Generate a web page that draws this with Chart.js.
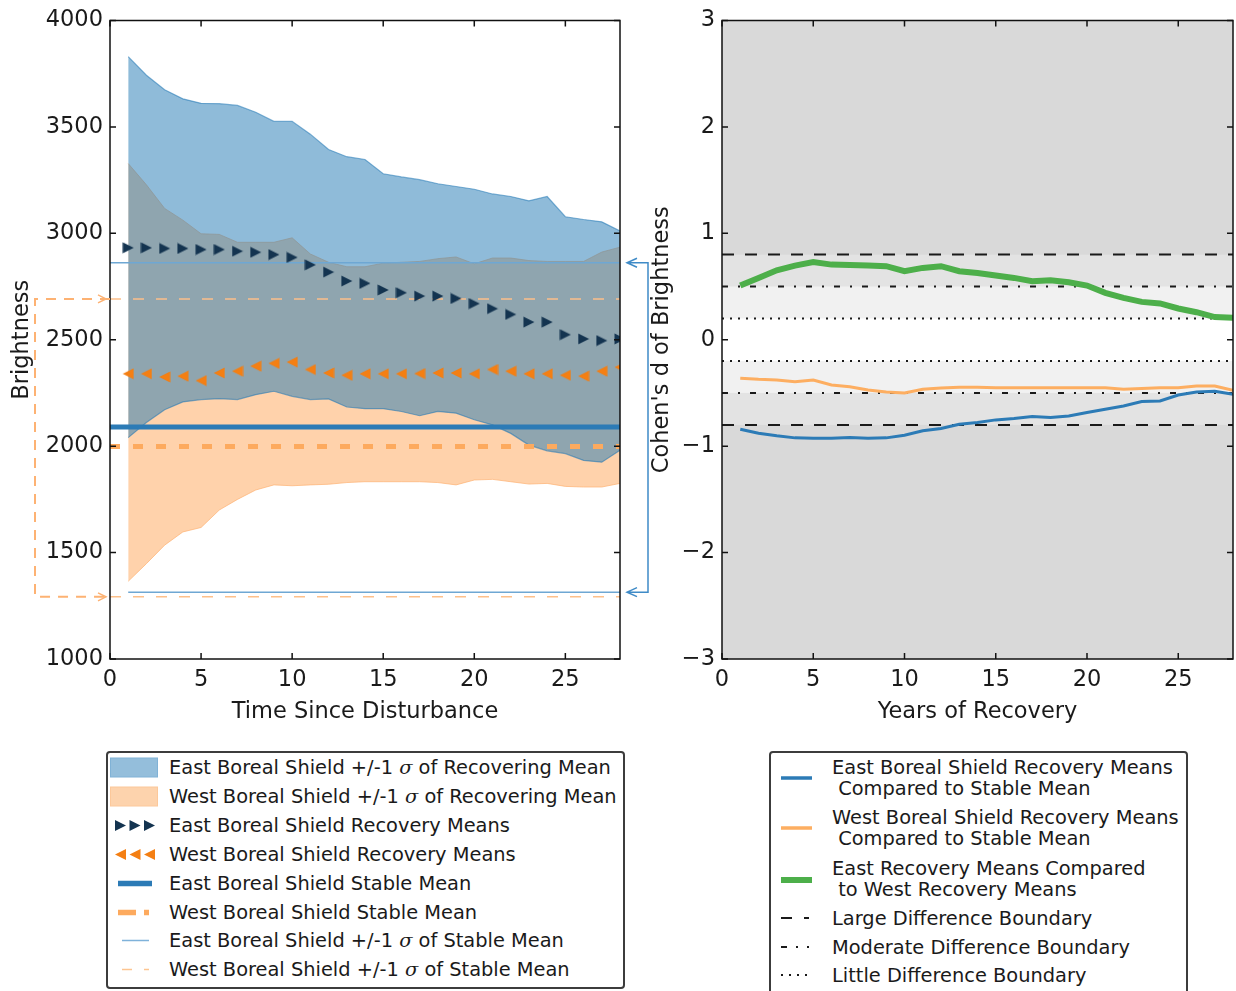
<!DOCTYPE html>
<html lang="en">
<head>
<meta charset="UTF-8">
<title>Boreal Shield Recovery Brightness</title>
<style>
  html, body { margin: 0; padding: 0; background: #fff; overflow: hidden; }
  body { width: 1236px; height: 991px; position: relative; font-family: 'DejaVu Sans', sans-serif; color: #1a1a1a; }
  canvas { position: absolute; top: 0; }
  #leftChart { left: 0; }
  #rightChart { left: 620px; }
  .legend { position: absolute; border: 2px solid #3c3c3c; border-radius: 4px; background: #fff; box-sizing: border-box; font-size: 19.4px; }
  .row { position: absolute; white-space: pre; }
  .legend svg { position: absolute; }
  .sig { font-family: 'DejaVu Serif', serif; font-style: italic; }
  #leftLegend { left: 106px; top: 751px; width: 519px; height: 238px; }
  #leftLegend .row { left: 61px; height: 29px; line-height: 29px; }
  #rightLegend { left: 769px; top: 751px; width: 419px; height: 260px; }
  #rightLegend .row { left: 61px; line-height: 21px; }
</style>
</head>
<body>
<canvas id="leftChart" width="680" height="745"></canvas>
<canvas id="rightChart" width="616" height="745"></canvas>

<div class="legend" id="leftLegend">
  <svg style="left:2px;top:0" width="50" height="29"><rect x="0.5" y="5" width="47" height="19" fill="#94bedb" stroke="#80b2d6"/></svg>
  <div class="row" style="top:0">East Boreal Shield +/-1 <span class="sig">σ</span> of Recovering Mean</div>
  <svg style="left:2px;top:28.9px" width="50" height="29"><rect x="0.5" y="5" width="47" height="19" fill="#fdd3ad" stroke="#fcc89a"/></svg>
  <div class="row" style="top:28.9px">West Boreal Shield +/-1 <span class="sig">σ</span> of Recovering Mean</div>
  <svg style="left:2px;top:57.8px" width="50" height="29"><g fill="#143450"><polygon points="5,9 16,14.5 5,20"/><polygon points="19.5,9 30.5,14.5 19.5,20"/><polygon points="34,9 45,14.5 34,20"/></g></svg>
  <div class="row" style="top:57.8px">East Boreal Shield Recovery Means</div>
  <svg style="left:2px;top:86.7px" width="50" height="29"><g fill="#f47f13"><polygon points="16,9 5,14.5 16,20"/><polygon points="30.5,9 19.5,14.5 30.5,20"/><polygon points="45,9 34,14.5 45,20"/></g></svg>
  <div class="row" style="top:86.7px">West Boreal Shield Recovery Means</div>
  <svg style="left:2px;top:115.6px" width="50" height="29"><line x1="8" y1="14.5" x2="42" y2="14.5" stroke="#2c7bb6" stroke-width="5.5"/></svg>
  <div class="row" style="top:115.6px">East Boreal Shield Stable Mean</div>
  <svg style="left:2px;top:144.5px" width="50" height="29"><line x1="8" y1="14.5" x2="39" y2="14.5" stroke="#fdaa5e" stroke-width="5.5" stroke-dasharray="18,8"/></svg>
  <div class="row" style="top:144.5px">West Boreal Shield Stable Mean</div>
  <svg style="left:2px;top:173.4px" width="50" height="29"><line x1="12" y1="14.5" x2="39" y2="14.5" stroke="#7fb2da" stroke-width="1.5"/></svg>
  <div class="row" style="top:173.4px">East Boreal Shield +/-1 <span class="sig">σ</span> of Stable Mean</div>
  <svg style="left:2px;top:202.3px" width="50" height="29"><line x1="12" y1="14.5" x2="39" y2="14.5" stroke="#fdc591" stroke-width="1.5" stroke-dasharray="10,12"/></svg>
  <div class="row" style="top:202.3px">West Boreal Shield +/-1 <span class="sig">σ</span> of Stable Mean</div>
</div>

<div class="legend" id="rightLegend">
  <svg style="left:8px;top:10px" width="40" height="30"><line x1="2" y1="15" x2="33" y2="15" stroke="#2c7bb6" stroke-width="3.5"/></svg>
  <div class="row" style="top:3.5px">East Boreal Shield Recovery Means
 Compared to Stable Mean</div>
  <svg style="left:8px;top:60px" width="40" height="30"><line x1="2" y1="15" x2="33" y2="15" stroke="#fdae61" stroke-width="3.5"/></svg>
  <div class="row" style="top:53.5px">West Boreal Shield Recovery Means
 Compared to Stable Mean</div>
  <svg style="left:8px;top:112px" width="40" height="30"><line x1="2" y1="15" x2="33" y2="15" stroke="#4daf4a" stroke-width="6"/></svg>
  <div class="row" style="top:104.5px">East Recovery Means Compared
 to West Recovery Means</div>
  <svg style="left:8px;top:150px" width="40" height="30"><line x1="2" y1="15" x2="30" y2="15" stroke="#1a1a1a" stroke-width="2" stroke-dasharray="11,12"/></svg>
  <div class="row" style="top:154.5px">Large Difference Boundary</div>
  <svg style="left:8px;top:179px" width="40" height="30"><line x1="2" y1="15" x2="30" y2="15" stroke="#1a1a1a" stroke-width="2" stroke-dasharray="6,9,2,9"/></svg>
  <div class="row" style="top:183.5px">Moderate Difference Boundary</div>
  <svg style="left:8px;top:207px" width="40" height="30"><line x1="2" y1="15" x2="30" y2="15" stroke="#1a1a1a" stroke-width="2" stroke-dasharray="2,6"/></svg>
  <div class="row" style="top:211.5px">Little Difference Boundary</div>
</div>

<script src="https://cdn.jsdelivr.net/npm/chart.js"></script>
<script>
  // years since disturbance
  const years = [1, 2, 3, 4, 5, 6, 7, 8, 9, 10, 11, 12, 13, 14, 15, 16, 17, 18, 19, 20, 21, 22, 23, 24, 25, 26, 27, 28];

  // recovering brightness, +/-1 sigma band and means
  const eastUpper = [3830, 3743, 3675, 3632, 3611, 3609, 3601, 3569, 3526, 3526, 3466, 3394, 3360, 3347, 3280, 3265, 3252, 3233, 3220, 3207, 3185, 3173, 3153, 3173, 3078, 3065, 3054, 3011];
  const eastLower = [2040, 2111, 2171, 2208, 2219, 2223, 2219, 2242, 2258, 2234, 2219, 2222, 2184, 2176, 2176, 2163, 2143, 2163, 2155, 2124, 2100, 2060, 2005, 1978, 1965, 1933, 1925, 1981];
  const westUpper = [3328, 3228, 3117, 3062, 2998, 2995, 2958, 2958, 2958, 2979, 2903, 2864, 2843, 2843, 2860, 2864, 2868, 2881, 2889, 2857, 2884, 2884, 2872, 2868, 2868, 2868, 2912, 2935];
  const westLower = [1365, 1448, 1535, 1597, 1618, 1700, 1750, 1794, 1818, 1814, 1818, 1821, 1829, 1833, 1833, 1833, 1833, 1829, 1818, 1841, 1844, 1833, 1822, 1825, 1811, 1808, 1808, 1825];
  const eastMeans = [2932, 2932, 2929, 2929, 2924, 2924, 2916, 2911, 2900, 2887, 2852, 2818, 2776, 2765, 2734, 2721, 2705, 2705, 2694, 2670, 2646, 2619, 2583, 2583, 2524, 2504, 2496, 2504];
  const westMeans = [2340, 2340, 2325, 2329, 2308, 2344, 2352, 2376, 2389, 2395, 2360, 2344, 2333, 2340, 2340, 2340, 2341, 2344, 2344, 2340, 2360, 2352, 2340, 2340, 2333, 2329, 2352, 2371];

  // stable brightness: [-1 sigma, mean, +1 sigma]
  const eastStable = [1314, 2090, 2862];
  const westStable = [1292, 1998, 2692];
  const stableSpan = [0, 28];
  const eastLowSpan = [1, 28];

  // Cohen's d against the stable means and east vs west
  const dEast = [-0.841, -0.878, -0.903, -0.922, -0.925, -0.925, -0.919, -0.925, -0.922, -0.897, -0.856, -0.834, -0.794, -0.778, -0.753, -0.741, -0.722, -0.731, -0.716, -0.684, -0.653, -0.622, -0.581, -0.575, -0.519, -0.491, -0.484, -0.512];
  const dWest = [-0.362, -0.372, -0.378, -0.394, -0.378, -0.425, -0.441, -0.472, -0.491, -0.500, -0.466, -0.453, -0.447, -0.447, -0.450, -0.450, -0.450, -0.450, -0.450, -0.450, -0.450, -0.466, -0.459, -0.450, -0.450, -0.434, -0.434, -0.475];
  const dEastWest = [0.509, 0.581, 0.653, 0.697, 0.731, 0.706, 0.703, 0.697, 0.691, 0.644, 0.675, 0.691, 0.644, 0.628, 0.603, 0.581, 0.550, 0.559, 0.541, 0.509, 0.441, 0.394, 0.356, 0.341, 0.294, 0.259, 0.213, 0.206];

  // effect size boundaries: large, moderate, little
  const boundaries = [0.8, 0.5, 0.2];

  const pts = (xs, ys) => xs.map((x, i) => ({ x: x, y: ys[i] }));
  const flat = (xs, v) => xs.map(x => ({ x: x, y: v }));

  Chart.defaults.font.family = "'DejaVu Sans', sans-serif";
  Chart.defaults.color = '#1a1a1a';
  Chart.defaults.animation = false;

  // triangle markers like matplotlib '>' and '<'
  function triangle(color, pointRight) {
    const c = document.createElement('canvas');
    c.width = 12; c.height = 12;
    const g = c.getContext('2d');
    g.fillStyle = color;
    g.beginPath();
    if (pointRight) { g.moveTo(0.5, 0.5); g.lineTo(11.5, 6); g.lineTo(0.5, 11.5); }
    else { g.moveTo(11.5, 0.5); g.lineTo(0.5, 6); g.lineTo(11.5, 11.5); }
    g.closePath();
    g.fill();
    return c;
  }

  // axes frame with inward ticks on all four sides
  const frameTicks = {
    id: 'frameTicks',
    afterDatasetsDraw(chart) {
      const { ctx, chartArea: a, scales: { x, y } } = chart;
      ctx.save();
      ctx.strokeStyle = '#111';
      ctx.lineWidth = 1.5;
      ctx.beginPath();
      x.ticks.forEach(t => {
        const px = x.getPixelForValue(t.value);
        ctx.moveTo(px, a.bottom); ctx.lineTo(px, a.bottom - 6);
        ctx.moveTo(px, a.top); ctx.lineTo(px, a.top + 6);
      });
      y.ticks.forEach(t => {
        const py = y.getPixelForValue(t.value);
        ctx.moveTo(a.left, py); ctx.lineTo(a.left + 6, py);
        ctx.moveTo(a.right, py); ctx.lineTo(a.right - 6, py);
      });
      ctx.stroke();
      ctx.strokeRect(a.left, a.top, a.right - a.left, a.bottom - a.top);
      ctx.restore();
    }
  };

  // brackets marking the stable +/-1 sigma range outside the axes
  const stableBrackets = {
    id: 'stableBrackets',
    afterDraw(chart) {
      const { ctx, chartArea: a, scales: { y } } = chart;
      ctx.save();
      // west, dashed orange on the left
      const wt = y.getPixelForValue(westStable[2]), wb = y.getPixelForValue(westStable[0]);
      const lx = a.left - 75, tip = a.left - 4;
      ctx.strokeStyle = '#fdb273';
      ctx.lineWidth = 2;
      ctx.setLineDash([10, 8]);
      ctx.beginPath();
      ctx.moveTo(a.left, wt); ctx.lineTo(lx, wt); ctx.lineTo(lx, wb); ctx.lineTo(a.left, wb);
      ctx.stroke();
      ctx.setLineDash([]);
      ctx.lineWidth = 1.5;
      ctx.beginPath();
      [wt, wb].forEach(py => { ctx.moveTo(tip - 8, py - 4); ctx.lineTo(tip, py); ctx.lineTo(tip - 8, py + 4); });
      ctx.stroke();
      // east, solid blue on the right
      const et = y.getPixelForValue(eastStable[2]), eb = y.getPixelForValue(eastStable[0]);
      const rx = a.right + 28, rtip = a.right + 7;
      ctx.strokeStyle = '#3f8bc7';
      ctx.lineWidth = 1.5;
      ctx.beginPath();
      ctx.moveTo(rtip, et); ctx.lineTo(rx, et); ctx.lineTo(rx, eb); ctx.lineTo(rtip, eb);
      [et, eb].forEach(py => { ctx.moveTo(rtip + 10, py - 4.5); ctx.lineTo(rtip, py); ctx.lineTo(rtip + 10, py + 4.5); });
      ctx.stroke();
      ctx.restore();
    }
  };

  // shaded effect size zones behind the Cohen's d lines
  const effectBands = {
    id: 'effectBands',
    beforeDatasetsDraw(chart) {
      const { ctx, chartArea: a, scales: { y } } = chart;
      const shades = ['#e3e3e3', '#f1f1f1', '#ffffff'];
      ctx.save();
      ctx.fillStyle = '#d9d9d9';
      ctx.fillRect(a.left, a.top, a.right - a.left, a.bottom - a.top);
      boundaries.forEach((b, i) => {
        const t = y.getPixelForValue(b), bt = y.getPixelForValue(-b);
        ctx.fillStyle = shades[i];
        ctx.fillRect(a.left, t, a.right - a.left, bt - t);
      });
      ctx.restore();
    }
  };

  const tickFont = { size: 22.5 };
  const titleFont = { size: 22.5 };

  function xScale(title) {
    return {
      type: 'linear', min: 0, max: 28,
      grid: { display: false, drawTicks: false },
      border: { display: false },
      ticks: { stepSize: 5, includeBounds: false, padding: 8, font: tickFont, maxRotation: 0 },
      title: { display: true, text: title, font: titleFont, padding: { top: 0, bottom: 19 } },
      afterFit: s => { s.height = 86; }
    };
  }

  const line = (data, color, width, order, extra) => Object.assign({
    data: data, borderColor: color, borderWidth: width, pointRadius: 0,
    tension: 0, fill: false, order: order
  }, extra || {});

  new Chart(document.getElementById('leftChart'), {
    type: 'line',
    data: {
      datasets: [
        line(pts(years, westLower), 'rgba(253,178,115,0.7)', 1, 10),
        line(pts(years, westUpper), 'rgba(253,178,115,0.7)', 1, 10, { fill: { target: 0 }, backgroundColor: 'rgba(255,127,14,0.35)' }),
        line(pts(years, eastLower), 'rgba(31,119,180,0.55)', 1.2, 9),
        line(pts(years, eastUpper), 'rgba(31,119,180,0.55)', 1.2, 9, { fill: { target: 2 }, backgroundColor: 'rgba(31,119,180,0.5)' }),
        line(flat(stableSpan, eastStable[2]), '#6ea7d3', 1.5, 5),
        line(flat(eastLowSpan, eastStable[0]), '#6ea7d3', 1.5, 5),
        line(flat(stableSpan, westStable[2]), '#fdc08a', 1.5, 5, { borderDash: [11, 12] }),
        line(flat(stableSpan, westStable[0]), '#fdc08a', 1.5, 5, { borderDash: [11, 12] }),
        line(flat(stableSpan, eastStable[1]), '#2c7bb6', 5, 4),
        line(flat(stableSpan, westStable[1]), '#fdaa5e', 5, 4, { borderDash: [10, 13] }),
        { data: pts(years, eastMeans), showLine: false, pointStyle: triangle('#143450', true), pointRadius: 6, order: 1 },
        { data: pts(years, westMeans), showLine: false, pointStyle: triangle('#f47f13', false), pointRadius: 6, order: 1 }
      ]
    },
    options: {
      responsive: false,
      layout: { padding: { top: 19, right: 60, left: 0, bottom: 0 } },
      plugins: { legend: { display: false }, tooltip: { enabled: false } },
      scales: {
        x: xScale('Time Since Disturbance'),
        y: {
          min: 1000, max: 4000,
          grid: { display: false, drawTicks: false },
          border: { display: false },
          ticks: { stepSize: 500, padding: 7, font: tickFont, callback: v => String(v) },
          title: { display: true, text: 'Brightness', font: titleFont, padding: { top: 8.5, bottom: 0 } },
          afterFit: s => { s.width = 110; }
        }
      }
    },
    plugins: [frameTicks, stableBrackets]
  });

  const dashes = [[12, 11], [6, 10, 2, 10], [2, 6]];
  const boundarySets = [];
  boundaries.forEach((b, i) => {
    [b, -b].forEach(v => boundarySets.push(line(flat(stableSpan, v), '#1a1a1a', 2, 5, { borderDash: dashes[i] })));
  });

  new Chart(document.getElementById('rightChart'), {
    type: 'line',
    data: {
      datasets: boundarySets.concat([
        line(pts(years, dEast), '#2c7bb6', 3, 3),
        line(pts(years, dWest), '#fdae61', 3, 2),
        line(pts(years, dEastWest), '#4daf4a', 6, 1)
      ])
    },
    options: {
      responsive: false,
      layout: { padding: { top: 19, right: 3, left: 0, bottom: 0 } },
      plugins: { legend: { display: false }, tooltip: { enabled: false } },
      scales: {
        x: xScale('Years of Recovery'),
        y: {
          min: -3, max: 3,
          grid: { display: false, drawTicks: false },
          border: { display: false },
          ticks: { stepSize: 1, padding: 7, font: tickFont, callback: v => (v < 0 ? '\u2212' + Math.abs(v) : String(v)) },
          title: { display: true, text: "Cohen's d of Brightness", font: titleFont, padding: { top: 28.5, bottom: 0 } },
          afterFit: s => { s.width = 102; }
        }
      }
    },
    plugins: [effectBands, frameTicks]
  });
</script>
</body>
</html>
